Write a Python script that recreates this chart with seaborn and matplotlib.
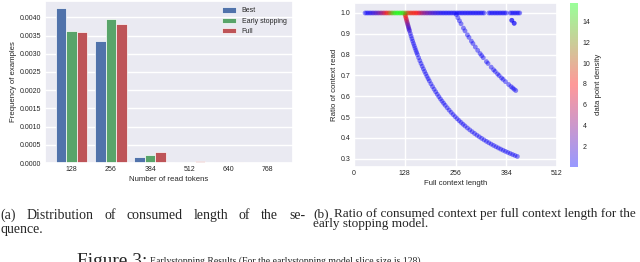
import matplotlib
matplotlib.use("Agg")
import matplotlib.pyplot as plt
from matplotlib.colors import LinearSegmentedColormap, Normalize
from matplotlib.cm import ScalarMappable
from matplotlib.transforms import IdentityTransform
import numpy as np
import pandas as pd
import seaborn as sns

# ---------------- data: panel (a) ----------------
token_bins = ["128", "256", "384", "512", "640", "768"]
freq_best = [0.00425, 0.00336, 0.000155, 0.00003, 0.00003, 0.0]
freq_early = [0.003625, 0.003945, 0.00022, 0.00003, 0.0, 0.0]
freq_full = [0.00359, 0.00381, 0.00031, 0.00006, 0.00003, 0.00001]
model_names = ["Best", "Early stopping", "Full"]
bar_colors = ["#4C72B0", "#55A868", "#C44E52"]

# ---------------- data: panel (b) ----------------
# full context lengths of examples read completely (ratio 1.0)
line_len = [28, 32, 36, 40, 44, 48, 52, 56, 60, 64, 68, 72, 76, 80, 84, 88, 92, 96,
            100, 104, 108, 112, 116, 120, 124, 128, 132, 136, 140, 144, 148, 152,
            156, 160, 164, 168, 172, 176, 180, 184, 188, 192, 196, 200, 204, 208,
            212, 216, 220, 224, 228, 232, 236, 240, 244, 248, 252, 256, 260]
line_density = [0.3, 0.3, 0.4, 0.6, 0.8, 1.2, 1.6, 2.0, 2.6, 3.2, 4.0, 4.8, 5.8, 7.0,
                8.2, 9.5, 11.5, 13.0, 14.2, 15.0, 15.5, 15.5, 15.2, 14.8, 14.0, 12.5,
                10.5, 9.2, 8.8, 8.6, 8.4, 8.2, 8.0, 7.4, 6.2, 5.0, 4.4, 3.8, 3.3, 2.9,
                2.5, 2.1, 1.8, 1.5, 1.2, 1.0, 0.8, 0.6, 0.5, 0.4, 0.3, 0.3, 0.3, 0.3,
                0.3, 0.3, 0.3, 0.3, 0.3]
line_tail_len = [264, 268, 272, 276, 280, 284, 288, 292, 296, 300, 304, 308, 312, 316,
                 320, 324, 328, 340, 344, 348, 352, 356, 360, 364, 368, 372, 376, 380,
                 384, 394, 398, 402, 406, 410, 414, 418]
line_tail_density = 0.3

# examples stopped after one slice (128 tokens read)
curve128_len = [129, 130, 131, 132, 133, 134, 135, 136, 137, 138, 139, 140, 142]
curve128_density = [9.0, 8.0, 7.0, 6.0, 5.0, 4.0, 3.2, 2.6, 2.1, 1.7, 1.4, 1.0, 0.7]
curve128_tail_len = [144, 146, 148, 150, 152, 154, 156, 158, 160, 163, 166, 169, 172,
                     175, 178, 181, 184, 187, 190, 194, 198, 202, 206, 210, 214, 218,
                     222, 226, 230, 235, 240, 245, 250, 255, 260, 265, 270, 275, 280,
                     286, 292, 298, 304, 310, 316, 322, 328, 334, 340, 346, 352, 358,
                     364, 370, 376, 382, 388, 394, 400, 406, 412]
curve128_tail_density = 0.3

# examples stopped after two slices (256 tokens read)
curve256_len = [258, 262, 266, 270, 276, 280, 286, 290, 296, 300, 306, 312, 318, 322,
                326, 334, 338, 346, 352, 356, 362, 366, 372, 376, 382, 390, 396, 400,
                404, 408]
curve256_density = 0.3

# examples stopped after three slices (384 tokens read)
curve384_len = [398, 398, 404, 404]
curve384_density = 0.3

# ---------------- style ----------------
sns.set_theme(style="darkgrid")
plt.rcParams["font.family"] = ["Liberation Sans", "DejaVu Sans"]

W, H = 640, 262
fig = plt.figure(figsize=(W / 100, H / 100), dpi=100)

ax1 = fig.add_axes([45 / W, 1 - 163 / H, 248 / W, 162 / H])
ax2 = fig.add_axes([354 / W, 1 - 167 / H, 203 / W, 164 / H])
cax = fig.add_axes([570 / W, 1 - 166.5 / H, 8.3 / W, 163.8 / H])

# ---------------- panel (a) ----------------
df_bar = pd.DataFrame({
    "tokens": token_bins * 3,
    "freq": freq_best + freq_early + freq_full,
    "model": [model_names[0]] * 6 + [model_names[1]] * 6 + [model_names[2]] * 6,
})
sns.barplot(data=df_bar, x="tokens", y="freq", hue="model", ax=ax1,
            palette=bar_colors, errorbar=None, width=0.8, saturation=0.9,
            edgecolor="white", linewidth=0.5)
ax1.set_xlim(-0.68, 5.645)
ax1.set_ylim(0, 0.00445)
ax1.set_yticks([0.0, 0.0005, 0.0010, 0.0015, 0.0020, 0.0025, 0.0030, 0.0035, 0.0040])
ax1.yaxis.set_major_formatter(matplotlib.ticker.FormatStrFormatter("%.4f"))
ax1.tick_params(labelsize=5, pad=2.5, length=0)
ax1.set_xlabel("Number of read tokens", fontsize=5.6, labelpad=2)
ax1.set_ylabel("Frequency of examples", fontsize=5.6, labelpad=2)
ax1.legend(loc="upper right", frameon=False, fontsize=5, title=None,
           handlelength=2.0, handleheight=0.85, labelspacing=0.45)

# ---------------- panel (b) ----------------
colors = [(0.0, 0.0, 1.0), (1.0, 0.0, 0.0), (0.0, 1.0, 0.0)]
cmap = LinearSegmentedColormap.from_list("brg_density", colors)
point_alpha = 0.45
cbar_alpha = 0.4
cmap_bar = LinearSegmentedColormap.from_list(
    "brg_density_a", [(r, g, b, cbar_alpha) for r, g, b in colors])
norm = Normalize(vmin=0.05, vmax=15.8)

parts = [
    pd.DataFrame({"length": line_len, "consumed": line_len, "density": line_density}),
    pd.DataFrame({"length": line_tail_len, "consumed": line_tail_len,
                  "density": line_tail_density}),
    pd.DataFrame({"length": curve128_len, "consumed": 128, "density": curve128_density}),
    pd.DataFrame({"length": curve128_tail_len, "consumed": 128,
                  "density": curve128_tail_density}),
    pd.DataFrame({"length": curve256_len, "consumed": 256, "density": curve256_density}),
    pd.DataFrame({"length": curve384_len, "consumed": 384, "density": curve384_density}),
]
df_sc = pd.concat(parts, ignore_index=True)
df_sc["ratio"] = df_sc["consumed"] / df_sc["length"]
df_sc = df_sc.sort_values("density", kind="stable").reset_index(drop=True)

sns.scatterplot(data=df_sc, x="length", y="ratio", s=12, linewidth=0,
                legend=False, ax=ax2)
pts = ax2.collections[-1]
pts.set_facecolor(cmap(norm(df_sc["density"].to_numpy()), alpha=point_alpha))
pts.set_edgecolor("none")

ax2.set_xlim(0, 512)
ax2.set_ylim(0.26, 1.048)
ax2.set_xticks([0, 128, 256, 384, 512])
ax2.set_yticks([0.3, 0.4, 0.5, 0.6, 0.7, 0.8, 0.9, 1.0])
ax2.yaxis.set_major_formatter(matplotlib.ticker.FormatStrFormatter("%.1f"))
ax2.tick_params(labelsize=5, pad=2.5, length=0)
ax2.set_xlabel("Full context length", fontsize=5.6, labelpad=2)
ax2.set_ylabel("Ratio of context read", fontsize=5.6, labelpad=2)

cax.set_facecolor("white")
cb = fig.colorbar(ScalarMappable(norm=norm, cmap=cmap_bar), cax=cax)
cb.outline.set_visible(False)
cb.set_ticks([2, 4, 6, 8, 10, 12, 14])
cb.ax.tick_params(labelsize=5, length=0, pad=3)
cb.set_label("data point density", fontsize=5.6, labelpad=3)

# ---------------- captions ----------------
serif = ["Liberation Serif", "DejaVu Serif"]
renderer = fig.canvas.get_renderer()
ident = IdentityTransform()


def px(y_top):
    return H - y_top


def text_width(s, size):
    t = fig.text(0, 0, s, fontsize=size, family=serif, transform=ident)
    w = t.get_window_extent(renderer).width
    t.remove()
    return w


def justified(words, size, x0, x1, y_top):
    widths = [text_width(w, size) for w in words]
    gap = (x1 - x0 - sum(widths)) / (len(words) - 1)
    x = x0
    for w, wd in zip(words, widths):
        fig.text(x, px(y_top), w, fontsize=size, family=serif, transform=ident,
                 va="baseline", ha="left")
        x += wd + gap


def fitted(s, x0, x1, y_top, size_guess=8.0):
    size = size_guess * (x1 - x0) / text_width(s, size_guess)
    fig.text(x0, px(y_top), s, fontsize=size, family=serif, transform=ident,
             va="baseline", ha="left")
    return size


cap_a1 = "(a) Distribution of consumed length of the se-"
cap_a2 = "quence."
cap_b_tag = "(b)"
cap_b1 = "Ratio of consumed context per full context length for the"
cap_b2 = "early stopping model."
fig_tag = "Figure 3:"
fig_caption = "Earlystopping Results (For the earlystopping model slice size is 128)"

justified(cap_a1.split(" "), 10, 0.5, 305, 219.3)
fig.text(0.5, px(232.8), cap_a2, fontsize=10, family=serif, transform=ident,
         va="baseline", ha="left")

fig.text(313, px(217), cap_b_tag, fontsize=9.5, family=serif, transform=ident,
         va="baseline", ha="left")
sz_b = fitted(cap_b1, 333.5, 635, 217)
fig.text(313, px(227.5), cap_b2, fontsize=sz_b, family=serif, transform=ident,
         va="baseline", ha="left")

fitted(fig_tag, 77, 147, 266, 11.5)
fitted(fig_caption, 150, 420, 264, 7.0)

fig.savefig("out.png", dpi=100)
